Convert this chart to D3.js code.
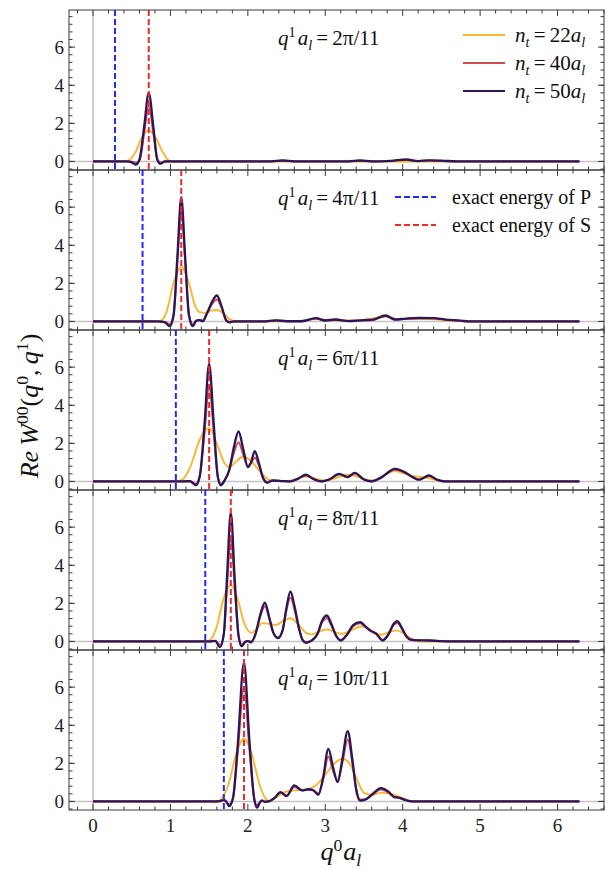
<!DOCTYPE html>
<html>
<head>
<meta charset="utf-8">
<script src="https://cdn.jsdelivr.net/npm/d3@7"></script>
<style>
  html, body { margin: 0; padding: 0; background: #fff; }
  svg { display: block; }
  svg text { font-family: "Liberation Serif", "Times New Roman", Times, "DejaVu Serif", serif; }
</style>
</head>
<body>
<svg id="chart" width="608" height="869"></svg>
<script>
// ---- data -------------------------------------------------------------
const qLabels = ["2π/11", "4π/11", "6π/11", "8π/11", "10π/11"];
const energyP = [0.284, 0.64, 1.07, 1.45, 1.69];
const energyS = [0.72, 1.14, 1.50, 1.78, 1.95];
const ntValues = ["22", "40", "50"];
const xTicks = [0, 1, 2, 3, 4, 5, 6];
const yTicks = [0, 2, 4, 6];

// q1 = 2π/11
const panel1_n22 = [[0,0],[0.40,0],[0.46,0.05],[0.55,0.5],[0.63,1.25],[0.72,1.63],[0.81,1.25],[0.90,0.5],[0.98,0.05],[1.05,-0.03],[1.15,0],[6.283,0]];
const panel1_n40 = [[0,0],[0.45,0],[0.52,-0.03],[0.56,-0.08],[0.61,0.15],[0.66,1.45],[0.72,2.9],[0.78,1.45],[0.83,0.12],[0.88,-0.06],[0.94,0],[2.3,0],[2.45,0.04],[2.6,0],[3.3,0],[3.45,0.04],[3.6,0],[3.85,0.03],[4.05,0.08],[4.2,0.02],[4.35,0.05],[4.5,0.03],[4.7,0],[6.283,0]];
const panel1_n50 = [[0,0],[0.45,0],[0.50,-0.05],[0.55,-0.17],[0.60,0.1],[0.66,1.8],[0.72,3.6],[0.78,1.8],[0.83,0.1],[0.87,-0.12],[0.93,0],[2.3,0],[2.45,0.05],[2.6,0],[3.3,0],[3.45,0.05],[3.6,0],[3.85,0.03],[4.05,0.1],[4.2,0.02],[4.35,0.06],[4.5,0.04],[4.7,0],[6.283,0]];

// q1 = 4π/11
const panel2_n22 = [[0,0],[0.82,0],[0.88,0.05],[0.95,0.5],[1.04,2.0],[1.14,2.88],[1.24,2.0],[1.32,0.8],[1.37,0.5],[1.45,0.45],[1.52,0.57],[1.60,0.6],[1.68,0.45],[1.76,0.12],[1.84,0],[2.2,0],[2.6,0.02],[2.88,0.12],[3.1,0.05],[3.4,0.05],[3.78,0.25],[3.95,0.12],[4.2,0.15],[4.45,0.1],[4.6,0.05],[4.85,0],[6.283,0]];
const panel2_n40 = [[0,0],[0.85,0],[0.93,-0.03],[0.99,-0.15],[1.04,0.35],[1.09,3.1],[1.14,5.9],[1.19,3.1],[1.24,0.35],[1.29,-0.15],[1.33,0.03],[1.37,0.08],[1.42,0.05],[1.47,0.4],[1.54,0.92],[1.60,1.15],[1.66,0.72],[1.72,0.08],[1.76,-0.03],[1.82,0],[2.2,0],[2.36,0.05],[2.5,0.01],[2.7,0.01],[2.88,0.15],[3.0,0.05],[3.13,0.09],[3.3,0.02],[3.5,0.06],[3.6,0.07],[3.78,0.28],[3.9,0.1],[4.05,0.14],[4.2,0.17],[4.4,0.16],[4.55,0.09],[4.75,0.03],[4.85,0],[6.283,0]];
const panel2_n50 = [[0,0],[0.85,0],[0.93,-0.05],[0.99,-0.25],[1.04,0.3],[1.09,3.4],[1.14,6.52],[1.19,3.4],[1.24,0.3],[1.29,-0.25],[1.33,0.02],[1.37,0.07],[1.42,0.02],[1.47,0.4],[1.54,1.05],[1.60,1.36],[1.66,0.8],[1.72,0.05],[1.76,-0.05],[1.82,0],[2.2,0],[2.36,0.06],[2.5,0.01],[2.7,0.01],[2.88,0.17],[3.0,0.05],[3.13,0.1],[3.3,0.02],[3.5,0.07],[3.6,0.08],[3.78,0.31],[3.9,0.1],[4.05,0.15],[4.2,0.18],[4.4,0.17],[4.55,0.1],[4.75,0.04],[4.85,0],[6.283,0]];

// q1 = 6π/11
const panel3_n22 = [[0,0],[1.06,0],[1.15,0.08],[1.25,0.7],[1.38,2.2],[1.50,2.81],[1.62,1.75],[1.70,0.95],[1.76,0.75],[1.85,1.05],[1.94,1.31],[2.05,1.05],[2.15,0.55],[2.25,0.15],[2.32,0.02],[2.5,0.02],[2.75,0.25],[3.0,0.05],[3.3,0.35],[3.6,0.05],[3.9,0.55],[4.1,0.3],[4.3,0.2],[4.5,0.02],[4.6,0],[6.283,0]];
const panel3_n40 = [[0,0],[1.15,0],[1.25,0.01],[1.33,-0.12],[1.38,0.3],[1.44,2.5],[1.50,5.0],[1.56,2.5],[1.61,0.3],[1.65,-0.12],[1.70,0.08],[1.76,0.6],[1.82,1.5],[1.88,2.06],[1.94,1.4],[2.0,0.8],[2.04,0.95],[2.09,1.25],[2.14,0.85],[2.2,0.15],[2.25,-0.03],[2.32,0.05],[2.45,0.02],[2.55,0],[2.65,0.14],[2.75,0.32],[2.85,0.11],[2.95,0],[3.05,0.1],[3.18,0.37],[3.29,0.22],[3.38,0.41],[3.5,0.1],[3.6,0],[3.72,0.19],[3.9,0.62],[4.02,0.47],[4.12,0.24],[4.21,0.09],[4.34,0.28],[4.45,0.07],[4.55,0],[6.283,0]];
const panel3_n50 = [[0,0],[1.15,0],[1.25,0.02],[1.33,-0.2],[1.38,0.3],[1.44,3.0],[1.50,6.17],[1.56,3.0],[1.61,0.3],[1.65,-0.2],[1.70,0.05],[1.76,0.6],[1.82,1.8],[1.88,2.62],[1.94,1.7],[2.0,0.75],[2.04,1.0],[2.09,1.59],[2.14,1.0],[2.2,0.15],[2.25,-0.07],[2.32,0.05],[2.45,0.02],[2.55,0],[2.65,0.15],[2.75,0.35],[2.85,0.12],[2.95,0],[3.05,0.1],[3.18,0.4],[3.29,0.23],[3.38,0.45],[3.5,0.1],[3.6,0],[3.72,0.2],[3.9,0.66],[4.02,0.5],[4.12,0.25],[4.21,0.09],[4.34,0.31],[4.45,0.08],[4.55,0],[6.283,0]];

// q1 = 8π/11
const panel4_n22 = [[0,0],[1.46,0],[1.52,0.1],[1.60,0.8],[1.69,2.3],[1.78,2.97],[1.87,2.2],[1.95,1.0],[2.05,0.44],[2.12,0.7],[2.19,0.96],[2.28,0.92],[2.37,0.87],[2.46,1.1],[2.55,1.22],[2.65,0.9],[2.75,0.45],[2.82,0.37],[2.92,0.52],[3.02,0.63],[3.12,0.5],[3.22,0.4],[3.35,0.62],[3.47,0.8],[3.6,0.55],[3.72,0.35],[3.82,0.48],[3.92,0.58],[4.02,0.4],[4.12,0.12],[4.21,0],[6.283,0]];
const panel4_n40 = [[0,0],[1.5,0],[1.58,0.02],[1.64,-0.18],[1.69,0.4],[1.73,2.8],[1.78,5.56],[1.83,2.8],[1.88,0.3],[1.92,-0.15],[1.97,0],[2.0,0.03],[2.04,0.0],[2.10,0.4],[2.16,1.3],[2.22,1.85],[2.28,1.15],[2.33,0.45],[2.39,0.22],[2.45,0.6],[2.50,1.65],[2.55,2.3],[2.60,1.7],[2.66,0.65],[2.71,0.07],[2.75,-0.03],[2.82,0.04],[2.9,0.38],[2.96,1.0],[3.02,1.22],[3.08,0.82],[3.14,0.3],[3.2,0.08],[3.28,0.35],[3.36,0.8],[3.45,0.95],[3.53,0.72],[3.58,0.56],[3.66,0.4],[3.74,0.08],[3.82,0.4],[3.88,0.85],[3.93,0.97],[3.99,0.65],[4.05,0.25],[4.1,0.1],[4.2,0.06],[4.35,0.05],[4.5,0.02],[4.7,0],[6.283,0]];
const panel4_n50 = [[0,0],[1.5,0],[1.58,0.03],[1.64,-0.3],[1.69,0.4],[1.73,3.3],[1.78,6.78],[1.83,3.3],[1.88,0.3],[1.92,-0.25],[1.97,-0.02],[2.0,0.02],[2.04,-0.05],[2.10,0.4],[2.16,1.4],[2.22,2.03],[2.28,1.2],[2.33,0.45],[2.39,0.17],[2.45,0.6],[2.50,1.8],[2.55,2.62],[2.60,1.9],[2.66,0.7],[2.71,0.05],[2.75,-0.07],[2.82,0.03],[2.9,0.4],[2.96,1.1],[3.02,1.36],[3.08,0.9],[3.14,0.3],[3.2,0.05],[3.28,0.35],[3.36,0.85],[3.45,1.01],[3.53,0.75],[3.58,0.58],[3.66,0.4],[3.74,0.05],[3.82,0.4],[3.88,0.9],[3.93,1.07],[3.99,0.7],[4.05,0.25],[4.1,0.1],[4.2,0.06],[4.35,0.05],[4.5,0.02],[4.7,0],[6.283,0]];

// q1 = 10π/11
const panel5_n22 = [[0,0],[1.50,0],[1.58,-0.05],[1.65,0.1],[1.75,0.9],[1.85,2.5],[1.95,3.29],[2.05,2.5],[2.15,0.9],[2.22,0.2],[2.28,0.0],[2.36,0.2],[2.45,0.45],[2.6,0.58],[2.75,0.62],[2.88,0.85],[3.0,1.4],[3.12,2.0],[3.22,2.24],[3.32,1.95],[3.42,1.05],[3.5,0.45],[3.6,0.35],[3.72,0.45],[3.85,0.4],[3.98,0.2],[4.1,0.03],[4.16,0],[6.283,0]];
const panel5_n40 = [[0,0],[1.55,0],[1.64,0.02],[1.69,0.06],[1.72,0],[1.76,-0.15],[1.81,0.25],[1.87,2.6],[1.95,6.0],[2.02,2.7],[2.08,0.2],[2.12,-0.2],[2.15,-0.05],[2.18,0.04],[2.22,0],[2.28,0.03],[2.35,0.2],[2.42,0.46],[2.5,0.32],[2.6,0.75],[2.7,0.58],[2.78,0.62],[2.84,0.58],[2.91,0.42],[2.97,1.1],[3.04,2.35],[3.10,1.6],[3.16,1.1],[3.22,2.0],[3.29,3.25],[3.35,2.0],[3.40,0.65],[3.45,0.1],[3.52,0.12],[3.6,0.33],[3.72,0.62],[3.82,0.45],[3.89,0.24],[3.96,0.19],[4.03,0.08],[4.12,0],[6.283,0]];
const panel5_n50 = [[0,0],[1.55,0],[1.64,0.02],[1.69,0.08],[1.72,0],[1.76,-0.25],[1.81,0.2],[1.87,3.0],[1.95,7.3],[2.02,3.2],[2.08,0.2],[2.12,-0.33],[2.15,-0.1],[2.18,0.05],[2.22,-0.02],[2.28,0.02],[2.35,0.2],[2.42,0.49],[2.5,0.28],[2.6,0.84],[2.7,0.58],[2.78,0.64],[2.84,0.6],[2.91,0.35],[2.97,1.2],[3.04,2.76],[3.10,1.8],[3.16,1.01],[3.22,2.2],[3.29,3.69],[3.35,2.2],[3.40,0.6],[3.45,0.04],[3.52,0.1],[3.6,0.35],[3.72,0.70],[3.82,0.5],[3.89,0.23],[3.96,0.19],[4.03,0.08],[4.12,0],[6.283,0]];

const panels = [
  [panel1_n22, panel1_n40, panel1_n50],
  [panel2_n22, panel2_n40, panel2_n50],
  [panel3_n22, panel3_n40, panel3_n50],
  [panel4_n22, panel4_n40, panel4_n50],
  [panel5_n22, panel5_n40, panel5_n50]
];

// ---- layout & style ---------------------------------------------------
const FONT = '"Liberation Serif", "Times New Roman", Times, "DejaVu Serif", serif';
const seriesColors = ["#fbb62e", "#cf4c55", "#2b1758"];
const seriesWidths = [1.9, 1.9, 2.3];
const dashStyle = "6,3";
const frameLeft = 69, frameRight = 604, frameTop = 10, panelH = 160;

const svg = d3.select("#chart");
const x = d3.scaleLinear().domain([-0.31, 6.6]).range([frameLeft, frameRight]);
const line = d3.line().curve(d3.curveMonotoneX);

function rich(g, px, py, parts, size, anchor, supShift) {
  const t = g.append("text")
    .attr("x", px).attr("y", py)
    .style("font-family", FONT).attr("font-size", size)
    .attr("text-anchor", anchor || "start")
    .attr("fill", "#111");
  let cur = 0;
  const up = supShift || 0.4;
  parts.forEach(p => {
    const shift = p.sup ? -up * size : p.sub ? 0.22 * size : 0;
    const ts = t.append("tspan").attr("dy", shift - cur).text(p.t);
    if (p.sup || p.sub) ts.attr("font-size", size * 0.68);
    if (p.i) ts.attr("font-style", "italic");
    if (p.dx) ts.attr("dx", p.dx);
    cur = shift;
  });
  return t;
}

panels.forEach((series, pi) => {
  const top = frameTop + pi * panelH;
  const y = d3.scaleLinear().domain([-0.45, 7.95]).range([top + panelH, top]);
  const g = svg.append("g");
  line.x(d => x(d[0])).y(d => y(d[1]));

  const clipId = "clip" + pi;
  svg.append("clipPath").attr("id", clipId)
    .append("rect").attr("x", frameLeft).attr("y", top)
    .attr("width", frameRight - frameLeft).attr("height", panelH);

  const plot = g.append("g").attr("clip-path", `url(#${clipId})`);

  // zero axes
  plot.append("line")
    .attr("x1", frameLeft).attr("x2", frameRight)
    .attr("y1", y(0)).attr("y2", y(0))
    .attr("stroke", "#c4c4c4").attr("stroke-width", 1.6);
  plot.append("line")
    .attr("x1", x(0)).attr("x2", x(0))
    .attr("y1", top).attr("y2", top + panelH)
    .attr("stroke", "#c4c4c4").attr("stroke-width", 1.6);

  // spectral curves
  series.forEach((pts, si) => {
    plot.append("path")
      .attr("d", line(pts))
      .attr("fill", "none")
      .attr("stroke", seriesColors[si])
      .attr("stroke-width", seriesWidths[si])
      .attr("stroke-linejoin", "round");
  });

  // exact energies
  [[energyP[pi], "#1f2cff"], [energyS[pi], "#f5262a"]].forEach(([e, c]) => {
    plot.append("line")
      .attr("x1", x(e)).attr("x2", x(e))
      .attr("y1", top).attr("y2", top + panelH)
      .attr("stroke", c).attr("stroke-width", 2)
      .attr("stroke-dasharray", dashStyle);
  });

  // frame
  g.append("rect")
    .attr("x", frameLeft).attr("y", top)
    .attr("width", frameRight - frameLeft).attr("height", panelH)
    .attr("fill", "none").attr("stroke", "#3a3a3a").attr("stroke-width", 1);

  // ticks (inward on all four sides)
  const tickG = g.append("g").attr("stroke", "#3a3a3a").attr("stroke-width", 1);
  const xMinor = d3.range(-0.2, 6.61, 0.2).map(v => +v.toFixed(2));
  xMinor.forEach(v => {
    const major = Math.abs(v - Math.round(v)) < 1e-6;
    const len = major ? 6 : 3.5;
    tickG.append("line").attr("x1", x(v)).attr("x2", x(v))
      .attr("y1", top + panelH).attr("y2", top + panelH - len);
    tickG.append("line").attr("x1", x(v)).attr("x2", x(v))
      .attr("y1", top).attr("y2", top + len);
  });
  const yMinor = d3.range(-0.4, 7.95, 0.4).map(v => +v.toFixed(2));
  yMinor.forEach(v => {
    tickG.append("line").attr("x1", frameLeft).attr("x2", frameLeft + 3.5)
      .attr("y1", y(v)).attr("y2", y(v));
    tickG.append("line").attr("x1", frameRight).attr("x2", frameRight - 3.5)
      .attr("y1", y(v)).attr("y2", y(v));
  });
  yTicks.forEach(v => {
    tickG.append("line").attr("x1", frameLeft).attr("x2", frameLeft + 6)
      .attr("y1", y(v)).attr("y2", y(v));
    tickG.append("line").attr("x1", frameRight).attr("x2", frameRight - 6)
      .attr("y1", y(v)).attr("y2", y(v));
    g.append("text")
      .attr("x", frameLeft - 5).attr("y", y(v))
      .attr("dy", "0.35em")
      .attr("text-anchor", "end")
      .style("font-family", FONT).attr("font-size", 19)
      .attr("fill", "#222")
      .text(v);
  });

  // panel annotation
  rich(g, 278, top + 35, [
    { t: "q", i: true }, { t: "1", sup: true }, { t: "a", i: true, dx: 2 }, { t: "l", i: true, sub: true },
    { t: "\u2009=\u2009" + qLabels[pi] }
  ], 21, "start");
});

// legends
const legendX1 = 463, legendX2 = 505;
ntValues.forEach((n, i) => {
  const ly = frameTop + 25 + i * 28;
  svg.append("line").attr("x1", legendX1).attr("x2", legendX2)
    .attr("y1", ly).attr("y2", ly)
    .attr("stroke", seriesColors[i]).attr("stroke-width", 1.9);
  rich(svg, 515, ly + 7, [
    { t: "n", i: true }, { t: "t", i: true, sub: true }, { t: "\u2009=\u2009" + n }, { t: "a", i: true }, { t: "l", i: true, sub: true }
  ], 21, "start");
});
[["#1f2cff", "exact energy of P"], ["#f5262a", "exact energy of S"]].forEach(([c, label], i) => {
  const ly = frameTop + panelH + 27 + i * 28;
  svg.append("line").attr("x1", 395).attr("x2", 436)
    .attr("y1", ly).attr("y2", ly)
    .attr("stroke", c).attr("stroke-width", 2)
    .attr("stroke-dasharray", dashStyle);
  svg.append("text").attr("x", 452).attr("y", ly + 7)
    .style("font-family", FONT).attr("font-size", 20).attr("fill", "#111")
    .text(label);
});

// x tick labels on the bottom panel
xTicks.forEach(v => {
  svg.append("text")
    .attr("x", x(v)).attr("y", frameTop + 5 * panelH + 22)
    .attr("text-anchor", "middle")
    .style("font-family", FONT).attr("font-size", 19).attr("fill", "#222")
    .text(v);
});

// axis titles
rich(svg, x(3.2), 860, [
  { t: "q", i: true }, { t: "0", sup: true }, { t: "a", i: true, dx: 1 }, { t: "l", i: true, sub: true }
], 26, "middle", 0.33);

const yTitle = svg.append("g").attr("transform", "translate(38,406) rotate(-90)");
rich(yTitle, 0, 0, [
  { t: "Re", i: true }, { t: "\u2009W", i: true }, { t: "00", sup: true }, { t: "(" },
  { t: "q", i: true }, { t: "0", sup: true }, { t: ",\u2009" }, { t: "q", i: true }, { t: "1", sup: true }, { t: ")" }
], 26, "middle");
</script>
</body>
</html>
